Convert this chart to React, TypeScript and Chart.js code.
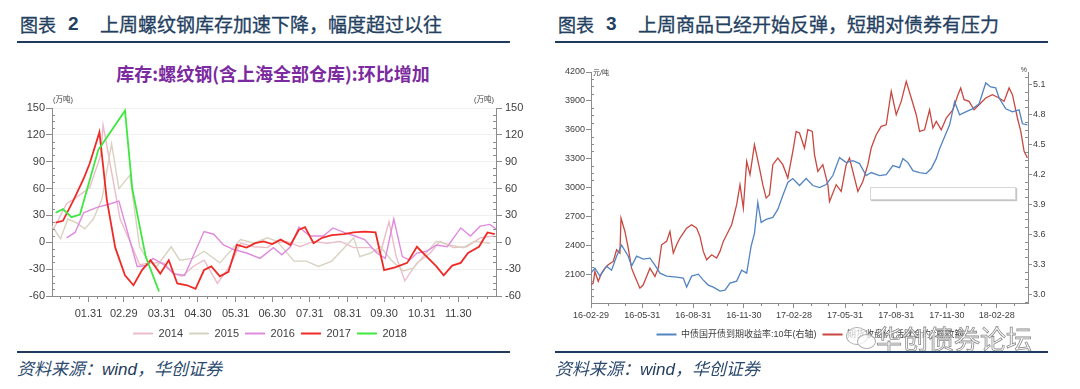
import React, { useEffect, useRef } from 'react';
import { Chart, registerables } from 'chart.js';

Chart.register(...registerables);

// ================= Chart 2: weekly change of rebar inventory (万吨) =================
const monthTickLabels = ['01.31', '02.29', '03.31', '04.30', '05.31', '06.30', '07.31', '08.31', '09.30', '10.31', '11.30'];
const seriesYears = ['2014', '2015', '2016', '2017', '2018'];

// x = day of year, y = week-on-week change (万吨)
const days2014 = [2, 13, 23, 32, 41, 43, 49, 57, 67, 73, 82, 93, 101, 108, 117, 126, 137, 147, 156, 167, 178, 183, 194, 205, 216, 227, 238, 249, 263, 271, 278, 284, 291, 301, 312, 320, 331, 342, 353, 364];
const inv2014 = [14, 43, 52, 61, 97, 131, 86, 26, -5, -25, -23, -23, -35, -38, -27, -20, -46, -27, -1, -5, -6, -1, 1, -5, 1, -1, 1, -6, -6, -12, 23, -16, -43, -23, -12, 1, -6, -5, 5, 7];

const days2015 = [1, 8, 14, 21, 28, 35, 42, 50, 56, 65, 73, 80, 87, 99, 106, 117, 126, 139, 156, 167, 178, 186, 200, 210, 220, 231, 249, 254, 263, 271, 280, 290, 298, 306, 317, 328, 339, 348, 361];
const inv2015 = [18, 4, 26, 22, 15, 26, 48, 110, 60, 75, -5, -21, -27, -5, -20, -18, -10, -23, 3, -1, 5, 1, -21, -21, -27, -21, 5, -16, -12, -5, -20, -32, -29, -16, 1, -3, -6, 1, -1];

const days2016 = [13, 20, 27, 38, 49, 56, 71, 79, 84, 93, 101, 110, 126, 134, 142, 150, 161, 172, 183, 190, 197, 204, 213, 224, 232, 241, 250, 258, 268, 275, 282, 289, 295, 301, 309, 317, 326, 337, 345, 353, 361, 366];
const inv2016 = [5, 11, 33, 39, 43, 46, -27, -26, -18, -25, -35, -37, 12, 9, -3, -8, -12, -18, -6, -14, -5, 17, 7, 7, 16, 11, 7, 3, -12, -18, 26, -16, -20, -12, -10, -3, -5, 16, 7, 18, 20, 15];

const days2017 = [4, 10, 19, 27, 32, 40, 46, 53, 61, 68, 75, 82, 90, 97, 104, 112, 119, 126, 132, 139, 146, 153, 161, 168, 175, 182, 189, 197, 204, 209, 216, 223, 231, 241, 249, 258, 267, 274, 283, 293, 301, 309, 317, 323, 330, 337, 343, 352, 359, 365];
const inv2017 = [22, 24, 48, 71, 88, 123, 48, -6, -37, -48, -31, -20, -35, -20, -46, -48, -52, -31, -27, -38, -33, -3, -6, -1, 1, -2, 3, -3, 14, 17, -1, 5, 8, 9, 11, 12, 11, -31, -28, -23, -5, -16, -27, -37, -26, -23, -12, -5, 11, 9];

const days2018 = [4, 10, 17, 24, 39, 61, 67, 78, 89];
const inv2018 = [33, 37, 28, 31, 103, 147, 60, -16, -55];

const invColors = ['#ebbcc8', '#d8d2c0', '#e08ade', '#ee2b26', '#3fe83f'];

// ================= Chart 3: rebar price vs 10Y CDB yield =================
const quarterTickLabels = ['16-02-29', '16-05-31', '16-08-31', '16-11-30', '17-02-28', '17-05-31', '17-08-31', '17-11-30', '18-02-28'];
const priceTicks = [2100, 2400, 2700, 3000, 3300, 3600, 3900, 4200];
const yieldTicks = [3.0, 3.3, 3.6, 3.9, 4.2, 4.5, 4.8, 5.1];

// x = days since 2016-02-29
const yieldDays = [0, 7, 16, 28, 37, 46, 55, 67, 73, 82, 94, 106, 115, 124, 136, 154, 166, 172, 181, 193, 202, 211, 220, 232, 241, 250, 262, 271, 280, 288, 294, 300, 306, 315, 327, 336, 345, 354, 363, 375, 387, 399, 411, 423, 435, 447, 459, 471, 483, 495, 504, 519, 531, 543, 555, 561, 570, 579, 591, 603, 612, 621, 627, 636, 645, 654, 663, 674, 686, 698, 710, 719, 728, 734, 746, 758, 770, 776, 785];
const yieldValues = [3.21, 3.26, 3.18, 3.28, 3.24, 3.38, 3.49, 3.38, 3.28, 3.38, 3.35, 3.36, 3.29, 3.21, 3.18, 3.17, 3.16, 3.07, 3.18, 3.2, 3.14, 3.09, 3.07, 3.03, 3.04, 3.11, 3.13, 3.24, 3.21, 3.48, 3.61, 3.92, 3.72, 3.75, 3.77, 3.85, 3.99, 4.12, 4.16, 4.09, 4.16, 4.09, 4.07, 4.1, 4.19, 4.37, 4.32, 4.34, 4.31, 4.19, 4.22, 4.19, 4.2, 4.29, 4.27, 4.36, 4.32, 4.24, 4.22, 4.21, 4.26, 4.36, 4.46, 4.58, 4.7, 4.93, 4.8, 4.83, 4.86, 4.91, 5.12, 5.08, 5.07, 4.97, 4.86, 4.83, 4.85, 4.71, 4.7];

const rebarDays = [0, 4, 7, 13, 19, 25, 31, 40, 46, 52, 54, 61, 67, 73, 79, 88, 94, 100, 106, 115, 121, 127, 136, 142, 148, 154, 160, 172, 181, 190, 196, 202, 208, 217, 226, 232, 238, 244, 253, 262, 268, 274, 280, 286, 294, 303, 309, 315, 321, 327, 336, 345, 354, 363, 369, 375, 384, 390, 398, 402, 408, 417, 426, 429, 441, 450, 459, 465, 474, 480, 489, 498, 504, 513, 522, 531, 540, 549, 558, 567, 576, 585, 591, 600, 609, 615, 621, 630, 639, 651, 660, 665, 671, 680, 689, 698, 710, 722, 734, 743, 752, 758, 767, 773, 779, 785];
const rebarPrice = [1989, 2006, 2128, 2024, 2110, 2162, 2197, 2232, 2353, 2318, 2682, 2543, 2370, 2162, 2076, 1954, 1989, 2076, 2162, 2076, 2162, 2405, 2440, 2543, 2318, 2405, 2475, 2578, 2613, 2578, 2492, 2336, 2249, 2301, 2266, 2336, 2440, 2509, 2613, 2821, 3029, 2786, 3271, 3133, 3445, 3202, 3029, 2890, 2925, 3237, 3306, 3237, 3098, 3375, 3583, 3566, 3410, 3600, 3583, 3341, 3167, 3237, 3029, 2855, 3029, 2959, 3237, 3306, 3098, 2959, 3063, 3237, 3410, 3548, 3635, 3652, 3999, 3756, 3895, 4103, 3930, 3756, 3583, 3600, 3808, 3618, 3687, 3600, 3722, 3808, 3964, 4034, 3912, 3895, 3808, 3860, 3930, 3964, 3930, 3895, 4034, 3964, 3722, 3583, 3375, 3306];

const yieldLabel = '中债国开债到期收益率:10年(右轴)';
const rebarLabel = '期货收盘价(活跃合约):螺纹钢';

// ---------- helpers ----------
const DAY = 86400000;
const dayOfYear = (lbl: string) => {
  const [m, d] = lbl.split('.').map(Number);
  return Math.round((Date.UTC(2016, m - 1, d) - Date.UTC(2016, 0, 0)) / DAY);
};
const X0 = Date.UTC(2016, 1, 29);
const dayFromLabel = (lbl: string) => {
  const [y, m, d] = lbl.split('-').map(Number);
  return Math.round((Date.UTC(2000 + y, m - 1, d) - X0) / DAY);
};

const AXIS = '#8c8c8c';
const TXT = '#404040';
const FONT = '"Liberation Sans", "Noto Sans CJK SC", sans-serif';

const axisDecor = {
  id: 'axisDecor',
  afterDraw(chart: any, _a: any, opts: any) {
    const ctx = chart.ctx;
    ctx.save();
    (opts.minor || []).forEach((m: any) => {
      const s = chart.scales[m.scale];
      if (!s) return;
      ctx.strokeStyle = AXIS;
      ctx.lineWidth = 1;
      ctx.beginPath();
      m.values.forEach((v: number) => {
        if (v < s.min || v > s.max) return;
        if (s.isHorizontal()) {
          const x = Math.round(s.getPixelForValue(v)) + 0.5;
          ctx.moveTo(x, s.top);
          ctx.lineTo(x, s.top + m.length);
        } else {
          const y = Math.round(s.getPixelForValue(v)) + 0.5;
          const left = s.position === 'left';
          const x0 = left ? s.right : s.left;
          ctx.moveTo(x0, y);
          ctx.lineTo(x0 + (left ? m.length : -m.length), y);
        }
      });
      ctx.stroke();
    });
    (opts.texts || []).forEach((t: any) => {
      const a = chart.chartArea;
      ctx.font = t.font;
      ctx.fillStyle = t.color || TXT;
      ctx.textAlign = t.align;
      ctx.textBaseline = 'alphabetic';
      const x = (t.side === 'left' ? a.left : a.right) + t.dx;
      ctx.fillText(t.text, x, a.top + t.dy);
    });
    ctx.restore();
  },
};

const legendNoStroke = (chart: any) =>
  (Chart.defaults.plugins.legend.labels.generateLabels as any)(chart).map((l: any) => ({ ...l, lineWidth: 0 }));

function buildInventoryConfig(): any {
  const dayArr = [days2014, days2015, days2016, days2017, days2018];
  const valArr = [inv2014, inv2015, inv2016, inv2017, inv2018];
  const monthTickDays = monthTickLabels.map(dayOfYear);
  const edges = [0, ...monthTickDays, 366];
  const xMinor: number[] = [];
  for (let i = 0; i < edges.length - 1; i++) {
    for (let k = 1; k < 4; k++) xMinor.push(edges[i] + ((edges[i + 1] - edges[i]) * k) / 4);
  }
  const yMinor: number[] = [];
  for (let v = -60; v <= 150; v += 7.5) if (v % 30 !== 0) yMinor.push(v);

  return {
    type: 'line',
    data: {
      datasets: seriesYears.map((yr, i) => ({
        label: yr,
        data: dayArr[i].map((d, k) => ({ x: d, y: valArr[i][k] })),
        borderColor: invColors[i],
        backgroundColor: invColors[i],
        borderWidth: i >= 3 ? 1.8 : 1.4,
        pointRadius: 0,
        tension: 0,
        order: 4 - i,
      })),
    },
    plugins: [axisDecor],
    options: {
      animation: false,
      responsive: false,
      layout: { padding: { top: 28, bottom: 1, left: 0, right: 0 } },
      plugins: {
        legend: {
          position: 'bottom',
          labels: {
            boxWidth: 20,
            boxHeight: 2,
            padding: 6,
            color: TXT,
            font: { size: 11, family: FONT },
            generateLabels: legendNoStroke,
            sort: (a: any, b: any) => a.datasetIndex - b.datasetIndex,
          },
        },
        tooltip: { enabled: false },
        axisDecor: {
          minor: [
            { scale: 'x', values: xMinor, length: 3 },
            { scale: 'y', values: yMinor, length: 3 },
            { scale: 'y1', values: yMinor, length: 3 },
          ],
          texts: [
            { text: '(万吨)', side: 'left', dx: 1, dy: -6, align: 'left', font: `7.5px ${FONT}` },
            { text: '(万吨)', side: 'right', dx: -2, dy: -6, align: 'right', font: `7.5px ${FONT}` },
          ],
        },
      },
      scales: {
        x: {
          type: 'linear',
          min: 1,
          max: 366,
          afterBuildTicks: (s: any) => { s.ticks = monthTickDays.map((v) => ({ value: v })); },
          afterFit: (s: any) => { s.height = 26; },
          ticks: { callback: (_v: any, i: number) => monthTickLabels[i] ?? '', autoSkip: false, maxRotation: 0, color: TXT, font: { size: 11, family: FONT }, padding: 5 },
          grid: { drawOnChartArea: false, tickLength: 6, tickColor: AXIS },
          border: { color: AXIS },
        },
        y: {
          position: 'left',
          min: -60,
          max: 150,
          afterFit: (s: any) => { s.width = 52; },
          ticks: { stepSize: 30, color: TXT, font: { size: 11, family: FONT }, padding: 1 },
          grid: { color: '#f0f0f0', tickColor: AXIS, tickLength: 6 },
          border: { color: AXIS },
        },
        y1: {
          position: 'right',
          min: -60,
          max: 150,
          afterFit: (s: any) => { s.width = 44; },
          ticks: { stepSize: 30, color: TXT, font: { size: 11, family: FONT }, padding: 3 },
          grid: { drawOnChartArea: false, tickColor: AXIS, tickLength: 6 },
          border: { color: AXIS },
        },
      },
    },
  };
}

function buildPriceConfig(): any {
  const quarterDays = quarterTickLabels.map(dayFromLabel);
  const xMax = 786;
  const xMinor: number[] = [];
  for (let i = 0; i < 27; i++) {
    const idx = 1 + i;
    const y = 2016 + Math.floor(idx / 12);
    const m = idx % 12;
    const d = Math.round((Date.UTC(y, m + 1, 0) - X0) / DAY);
    if (d <= xMax && !quarterDays.includes(d)) xMinor.push(d);
  }
  const yMinor: number[] = [];
  for (let v = 1875; v < 4200; v += 75) if ((v - 1800) % 300 !== 0) yMinor.push(v);
  const y1Minor: number[] = [];
  for (let k = -1; k <= 29; k++) if (k % 4 !== 0) y1Minor.push(3 + k * 0.075);

  return {
    type: 'line',
    data: {
      datasets: [
        {
          label: yieldLabel,
          data: yieldDays.map((d, i) => ({ x: d, y: yieldValues[i] })),
          yAxisID: 'y1',
          borderColor: '#5384c2',
          backgroundColor: '#5384c2',
          borderWidth: 1.3,
          pointRadius: 0,
          tension: 0,
        },
        {
          label: rebarLabel,
          data: rebarDays.map((d, i) => ({ x: d, y: rebarPrice[i] })),
          yAxisID: 'y',
          borderColor: '#c8473f',
          backgroundColor: '#c8473f',
          borderWidth: 1.3,
          pointRadius: 0,
          tension: 0,
        },
      ],
    },
    plugins: [axisDecor],
    options: {
      animation: false,
      responsive: false,
      layout: { padding: { top: 12, bottom: 1, left: 0, right: 0 } },
      plugins: {
        legend: {
          position: 'bottom',
          labels: { boxWidth: 20, boxHeight: 2, padding: 6, color: TXT, font: { size: 9, family: FONT }, generateLabels: legendNoStroke },
        },
        tooltip: { enabled: false },
        axisDecor: {
          minor: [
            { scale: 'x', values: xMinor, length: 3 },
            { scale: 'y', values: yMinor, length: 3 },
            { scale: 'y1', values: y1Minor, length: 3 },
          ],
          texts: [
            { text: '元/吨', side: 'left', dx: 2, dy: 3, align: 'left', font: `7px ${FONT}` },
            { text: '%', side: 'right', dx: -1, dy: 0, align: 'right', font: `7px ${FONT}` },
          ],
        },
      },
      scales: {
        x: {
          type: 'linear',
          min: 0,
          max: xMax,
          afterBuildTicks: (s: any) => { s.ticks = quarterDays.map((v) => ({ value: v })); },
          afterFit: (s: any) => { s.height = 21; },
          ticks: { callback: (_v: any, i: number) => quarterTickLabels[i] ?? '', autoSkip: false, maxRotation: 0, color: TXT, font: { size: 9, family: FONT }, padding: 2 },
          grid: { drawOnChartArea: false, tickLength: 5, tickColor: AXIS },
          border: { color: AXIS },
        },
        y: {
          position: 'left',
          min: 1800,
          max: 4200,
          afterBuildTicks: (s: any) => { s.ticks = priceTicks.map((v) => ({ value: v })); },
          afterFit: (s: any) => { s.width = 51; },
          ticks: { color: TXT, font: { size: 9, family: FONT }, padding: 1, callback: (v: any) => String(v) },
          grid: { drawOnChartArea: false, tickColor: AXIS, tickLength: 5 },
          border: { color: AXIS },
        },
        y1: {
          position: 'right',
          min: 2.91,
          max: 5.23,
          afterBuildTicks: (s: any) => { s.ticks = yieldTicks.map((v) => ({ value: v })); },
          afterFit: (s: any) => { s.width = 52; },
          ticks: { color: TXT, font: { size: 9, family: FONT }, padding: 1, callback: (v: any) => Number(v).toFixed(1) },
          grid: { drawOnChartArea: false, tickColor: AXIS, tickLength: 4 },
          border: { color: AXIS },
        },
      },
    },
  };
}

const NAVY = '#23405f';

export default function App() {
  const leftRef = useRef<HTMLCanvasElement>(null);
  const rightRef = useRef<HTMLCanvasElement>(null);

  useEffect(() => {
    const c1 = new Chart(leftRef.current as HTMLCanvasElement, buildInventoryConfig());
    const c2 = new Chart(rightRef.current as HTMLCanvasElement, buildPriceConfig());
    return () => {
      c1.destroy();
      c2.destroy();
    };
  }, []);

  const abs = (o: any): React.CSSProperties => ({ position: 'absolute', whiteSpace: 'nowrap', ...o });
  const cjk = '"Noto Sans CJK SC", sans-serif';
  const titleStyle = { fontSize: 19, lineHeight: '22px', color: NAVY, WebkitTextStroke: '0.3px #23405f' };

  return (
    <div style={{ position: 'absolute', left: 0, top: 0, width: 1080, height: 389, background: '#fff', overflow: 'hidden', fontFamily: cjk }}>
      {/* left panel header */}
      <div style={abs({ ...titleStyle, left: 20, top: 13, fontSize: 18 })}>图表</div>
      <div style={abs({ left: 68, top: 13, fontSize: 19, lineHeight: '22px', color: NAVY, fontWeight: 'bold', fontFamily: '"Liberation Sans", sans-serif' })}>2</div>
      <div style={abs({ ...titleStyle, left: 100, top: 13 })}>上周螺纹钢库存加速下降，幅度超过以往</div>
      <div style={abs({ left: 17, top: 41, width: 493, height: 2, background: '#1f3a5c' })} />

      {/* right panel header */}
      <div style={abs({ ...titleStyle, left: 558, top: 13, fontSize: 18 })}>图表</div>
      <div style={abs({ left: 606, top: 13, fontSize: 19, lineHeight: '22px', color: NAVY, fontWeight: 'bold', fontFamily: '"Liberation Sans", sans-serif' })}>3</div>
      <div style={abs({ ...titleStyle, left: 638, top: 13 })}>上周商品已经开始反弹，短期对债券有压力</div>
      <div style={abs({ left: 555, top: 41, width: 493, height: 2, background: '#1f3a5c' })} />

      {/* left chart */}
      <div style={abs({ left: 0, top: 63, width: 546, textAlign: 'center', fontSize: 18, lineHeight: '20px', fontWeight: 'bold', color: '#7b2aa0' })}>
        库存:螺纹钢(含上海全部仓库):环比增加
      </div>
      <canvas ref={leftRef} width={540} height={270} style={abs({ left: 0, top: 80, width: 540, height: 270 })} />

      {/* right chart */}
      <canvas ref={rightRef} width={540} height={290} style={abs({ left: 540, top: 60, width: 540, height: 290 })} />
      <div style={abs({ left: 870, top: 187, width: 144, height: 11, background: '#fff', border: '1px solid #d6d6d6', boxShadow: '1px 1px 1px #c4c4c4' })} />

      {/* watermark */}
      <div style={abs({ left: 846, top: 327, width: 20, height: 16, borderRadius: '50%', border: '1.5px solid #b0b0b0', background: 'rgba(255,255,255,0.7)' })} />
      <div style={abs({ left: 857, top: 334, width: 17, height: 13, borderRadius: '50%', border: '1.5px solid #b0b0b0', background: 'rgba(255,255,255,0.7)' })} />
      <div style={abs({ left: 876, top: 322, fontSize: 26, lineHeight: '32px', color: 'rgba(255,255,255,0.8)', WebkitTextStroke: '0.8px #8c8c8c' })}>华创债券论坛</div>

      {/* footers */}
      <div style={abs({ left: 17, top: 351, width: 493, height: 2, background: '#1f3a5c' })} />
      <div style={abs({ left: 555, top: 351, width: 493, height: 2, background: '#1f3a5c' })} />
      <div style={abs({ left: 17, top: 357, fontSize: 17, lineHeight: '22px', fontStyle: 'italic', color: '#2c4a6e' })}>
        资料来源：<span style={{ fontFamily: '"Liberation Sans", sans-serif', color: '#1f3a5c' }}>wind</span>，华创证券
      </div>
      <div style={abs({ left: 555, top: 357, fontSize: 17, lineHeight: '22px', fontStyle: 'italic', color: '#2c4a6e' })}>
        资料来源：<span style={{ fontFamily: '"Liberation Sans", sans-serif', color: '#1f3a5c' }}>wind</span>，华创证券
      </div>
    </div>
  );
}
